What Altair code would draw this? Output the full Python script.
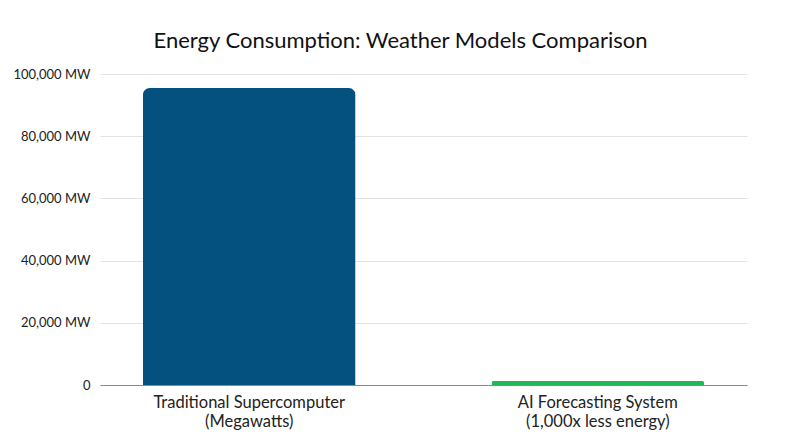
import altair as alt
import pandas as pd

categories = ["Traditional Supercomputer|(Megawatts)", "AI Forecasting System|(1,000x less energy)"]
values = [95500, 1300]
colors = ["#04507F", "#1DB954"]
y_ticks = [0, 20000, 40000, 60000, 80000, 100000]

df = pd.DataFrame({"category": categories, "value": values, "color": colors})

FONT = "Lato"

chart = alt.Chart(df).mark_bar(cornerRadiusTopLeft=7, cornerRadiusTopRight=7).encode(
    x=alt.X("category:N", sort=categories,
            scale=alt.Scale(paddingInner=0.39, paddingOuter=0.123),
            axis=alt.Axis(title=None, labelAngle=0, labelExpr="split(datum.label, '|')",
                          labelFont=FONT, labelFontSize=16.5, labelColor="#222",
                          labelPadding=9, ticks=False, domainColor="#8a8a8a",
                          labelLineHeight=19, labelLimit=400)),
    y=alt.Y("value:Q", scale=alt.Scale(domain=[0, 100000]),
            axis=alt.Axis(title=None, values=y_ticks,
                          labelExpr="datum.value == 0 ? '0' : format(datum.value, ',') + ' MW'",
                          labelFont=FONT, labelFontSize=13, labelColor="#222",
                          labelPadding=10, ticks=False, domain=False,
                          gridColor="#e3e3e3")),
    color=alt.Color("color:N", scale=None),
).properties(
    width=647, height=311,
    title=alt.TitleParams("Energy Consumption: Weather Models Comparison", font=FONT,
                          fontSize=22, fontWeight="normal", color="#111", offset=15, dx=-23),
    autosize=alt.AutoSizeParams(type="none"),
    padding={"left": 92, "top": 66, "right": 45, "bottom": 54},
).configure_view(stroke=None)

chart.save("out.html", embed_options={"renderer": "svg", "actions": False})
